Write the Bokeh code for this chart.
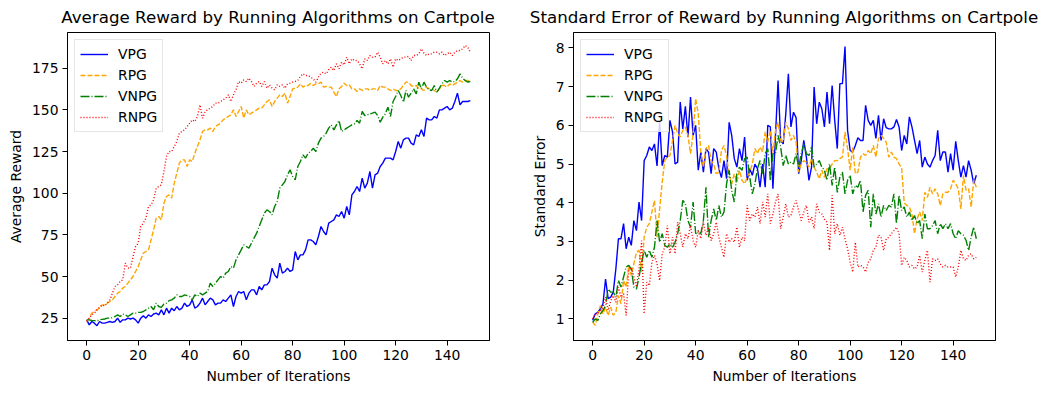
from bokeh.plotting import figure
from bokeh.layouts import row, column
from bokeh.models import Range1d, FixedTicker, Legend, LegendItem, Div
from bokeh.embed import file_html
from bokeh.resources import INLINE

iterations = list(range(150))

avg_vpg = [24, 21, 23, 22, 20.5, 23, 22, 22, 22.5, 23,
           22.5, 23, 25, 22.5, 24, 24, 25, 24.5, 25, 24,
           22, 25, 26.5, 25, 27, 26, 27.5, 28, 27, 30,
           27, 31, 28, 31, 29.5, 32, 30, 31, 34, 32,
           33, 36, 31, 32, 34, 37, 33, 35, 37, 36,
           33, 34, 34, 36, 35, 37, 39, 32, 38, 41,
           40, 41, 36, 40, 42, 42, 39, 44, 42, 45,
           45, 47, 55, 51, 49, 58, 52, 53, 55, 53,
           54, 65, 60, 63, 63, 66, 72, 72, 71, 69,
           74, 80, 77, 75, 82, 83, 84, 87, 86, 89,
           85, 92, 87, 99, 101, 104, 101, 109, 103, 106,
           113, 103, 111, 112, 116, 118, 121, 121, 121, 120,
           125, 131, 127, 132, 133, 133, 130, 129, 135, 134,
           138, 134, 145, 144, 144, 146, 145, 150, 150, 151,
           152, 150, 151, 155, 160, 153, 155, 155, 155, 155.5]

avg_rpg = [23, 25, 28, 29, 30, 31, 33, 33, 34, 35,
           36, 38, 40, 41, 43, 44, 46, 48, 50, 53,
           56, 60, 64, 65, 66, 72, 78, 85, 86, 84,
           94, 98, 99, 97, 106, 112, 118, 120, 120, 116,
           120, 119, 124, 128, 132, 137, 138, 138, 139, 137,
           140, 141, 142, 144, 145, 146, 147, 150, 146, 149,
           152, 145, 150, 147, 148, 149, 150, 151, 151, 153,
           155, 156, 152, 155, 157, 159, 158, 160, 154, 158,
           162.6, 163, 163.6, 165.6, 163.6, 164.6, 164.6, 166, 164.6, 165.6,
           165.6, 166.6, 163.6, 164, 163.6, 163.6, 160.6, 158, 162.6, 164,
           166, 164.6, 165, 162.6, 162.6, 161, 162.6, 161.6, 162.6, 162.6,
           161.6, 162.6, 162.6, 161.6, 164.6, 163.6, 163.6, 162.6, 161.6, 162.6,
           161.6, 161.6, 162.6, 164.6, 166.6, 166.6, 164.6, 164, 164.6, 162.6,
           162.6, 161.6, 163.6, 162.6, 162.6, 161.6, 160.6, 162.6, 164.6, 164.6,
           163.6, 165.6, 164.6, 165.6, 166.6, 167.6, 166.6, 167.6, 167.6, 167]

avg_vnpg = [24, 24, 23.6, 23.5, 23.4, 24, 24.3, 24.5, 25, 25,
            25.3, 26, 27, 26, 27.5, 27, 26, 27, 28, 28,
            28.5, 28.5, 29, 30, 31, 32, 30, 34, 32, 31.5,
            33.5, 34, 35.5, 36, 37, 39, 38, 38, 39, 38.5,
            38, 36, 39, 38, 40, 39, 40, 41, 46, 44,
            46, 48, 50, 49, 52, 53, 56, 55, 60, 63,
            66, 69, 68, 67, 70, 73, 76, 80, 84, 88,
            90, 89, 87, 92, 95, 103, 105, 107, 111, 114,
            110, 108, 116, 119, 123, 121, 124, 125, 127, 125,
            130, 133, 134, 136, 139, 141, 138, 141, 143.6, 137,
            138, 139, 140, 141, 141.6, 143.6, 142, 149, 146.6, 147,
            147.6, 148, 148.6, 146.6, 142.6, 145.6, 147.6, 151.6, 146, 155,
            158, 161.6, 158.6, 154.6, 161.6, 157.6, 160, 162.6, 159.6, 166.6,
            162.6, 166.6, 163.6, 162, 161.6, 164.6, 160.6, 163, 165.6, 167.6,
            166.6, 167.6, 166.6, 167, 168.6, 171.6, 169, 167.6, 166.6, 167]

avg_rnpg = [23, 25, 27, 28, 30, 31.5, 33, 32.3, 34, 36,
            40, 44, 45, 47, 48, 58, 55, 55, 62, 68,
            70, 80, 82, 85, 92, 93, 96, 103, 104, 105,
            113, 122, 125, 125, 128, 131, 136, 137, 138, 140,
            142, 144, 143, 146, 153, 145, 149, 150, 151, 152,
            154, 154, 155, 156, 157, 159, 155, 159, 162, 167,
            166, 168, 167, 169, 167, 164, 166, 167, 164, 167,
            163, 165, 163, 162, 165, 164, 165, 163, 165.6, 166,
            166.6, 167, 167.6, 170, 171.6, 170.6, 170.6, 169.5, 168.6, 166.6,
            169.6, 172, 172.6, 171.6, 174, 175.6, 173.6, 177.6, 174.6, 178.6,
            177, 181.6, 177.6, 180.6, 179.6, 179.6, 177.6, 174.6, 180.6, 179.6,
            182.6, 181.6, 181.6, 184.6, 181.6, 177.6, 179.6, 177.6, 180.6, 175.6,
            180.6, 179.6, 180.6, 181.6, 181.6, 182, 179.6, 182.6, 182.6, 183.6,
            186.6, 184, 182.6, 183.6, 183.6, 184.6, 184.6, 183.6, 184.6, 182.6,
            183.6, 184.6, 182.6, 184.6, 185.6, 185.6, 186.6, 188.6, 187.6, 184.6]

se_vpg = [0.96, 1.13, 1.17, 1.26, 1.39, 2.03, 1.52, 1.56, 1.69, 2.29,
          3.07, 3.07, 3.46, 2.81, 3.11, 2.9, 3.54, 3.28, 4.02, 3.54,
          5.09, 5.22, 5.44, 5.35, 5.52, 4.95, 6.08, 4.96, 5.22, 5.18,
          6.13, 5.83, 5.0, 5.05, 6.6, 5.91, 6.49, 5.7, 6.73, 5.74,
          6.0, 4.84, 5.31, 4.79, 5.4, 5.31, 4.75, 5.4, 5.31, 4.88,
          4.65, 5.09, 4.62, 6.08, 5.74, 5.14, 4.92, 5.4, 5.09, 5.7,
          4.58, 4.88, 4.71, 5.0, 4.88, 4.4, 5.0, 4.4, 6.0, 5.96,
          4.36, 5.74, 7.16, 5.61, 5.52, 6.3, 7.33, 5.96, 6.34, 6.2,
          4.75, 5.09, 5.61, 5.18, 4.58, 4.92, 6.99, 6.04, 6.6, 6.43,
          5.96, 6.86, 6.04, 7.03, 6.13, 5.4, 7.08, 7.08, 8.04, 5.87,
          5.35, 5.31, 5.48, 5.68, 5.61, 5.61, 6.52, 6.13, 6.0, 6.13,
          5.66, 6.26, 5.61, 6.17, 5.94, 5.91, 5.91, 5.96, 6.15, 5.96,
          5.35, 5.74, 5.52, 6.22, 5.96, 5.61, 5.27, 5.61, 4.92, 5.18,
          5.0, 4.92, 5.09, 5.22, 5.87, 5.09, 5.31, 5.31, 4.79, 5.27,
          4.84, 5.59, 5.09, 4.66, 4.96, 4.66, 5.09, 4.84, 4.49, 4.71]

se_rpg = [0.91, 0.83, 1.13, 1.34, 1.13, 1.3, 1.09, 1.3, 1.09, 1.17,
          1.6, 1.39, 1.99, 1.82, 2.38, 2.12, 2.42, 2.72, 2.77, 2.21,
          3.11, 3.37, 3.46, 3.76, 4.06, 3.11, 3.84, 4.53, 5.09, 5.18,
          5.22, 5.61, 6.0, 5.78, 5.7, 5.87, 5.96, 5.74, 5.27, 5.78,
          6.69, 6.3, 5.31, 4.92, 5.4, 5.48, 5.09, 5.0, 4.75, 4.79,
          5.35, 5.48, 5.22, 4.71, 4.49, 4.75, 4.53, 4.84, 4.58, 4.49,
          4.66, 4.79, 5.0, 5.4, 5.27, 5.44, 5.31, 5.83, 5.57, 5.87,
          5.27, 5.87, 6.08, 5.61, 5.57, 6.08, 5.91, 5.61, 5.74, 5.57,
          4.79, 5.0, 5.09, 5.05, 4.92, 5.14, 4.92, 4.79, 4.62, 4.84,
          4.66, 4.88, 4.88, 5.0, 5.09, 5.09, 5.14, 5.18, 5.83, 5.4,
          4.84, 5.44, 4.75, 4.79, 5.18, 5.27, 5.22, 5.35, 5.27, 5.48,
          5.18, 5.66, 5.74, 5.66, 5.57, 5.18, 5.31, 5.18, 5.14, 5.0,
          4.9, 4.0, 3.93, 3.89, 3.71, 3.2, 3.58, 3.76, 3.54, 4.27,
          4.14, 4.4, 4.23, 4.36, 4.23, 3.93, 4.23, 4.27, 4.27, 4.36,
          4.58, 4.49, 4.36, 3.84, 4.71, 4.32, 4.36, 3.89, 4.58, 4.4]

se_vnpg = [0.91, 1.0, 0.96, 1.13, 1.22, 1.34, 1.77, 1.69, 1.69, 1.56,
           1.99, 1.82, 2.08, 2.34, 2.38, 2.29, 1.82, 1.77, 2.08, 2.46,
           2.77, 2.59, 2.77, 2.59, 2.85, 3.54, 2.98, 3.2, 2.9, 2.85,
           2.94, 2.85, 2.98, 3.2, 3.54, 4.06, 3.97, 3.54, 3.37, 4.02,
           3.2, 3.28, 3.2, 3.54, 4.4, 3.11, 3.54, 3.84, 3.54, 3.93,
           3.63, 3.76, 4.49, 4.84, 4.32, 4.02, 4.75, 4.92, 4.84, 5.14,
           5.18, 4.66, 4.23, 4.49, 4.88, 5.09, 4.75, 5.27, 5.4, 4.58,
           5.27, 5.27, 5.74, 5.44, 4.96, 5.22, 5.0, 5.05, 5.0, 5.27,
           4.92, 5.27, 5.52, 5.27, 5.22, 5.44, 4.92, 5.0, 5.09, 4.92,
           4.84, 4.58, 5.0, 4.45, 4.92, 4.27, 4.66, 4.79, 4.23, 4.58,
           4.71, 4.23, 4.45, 4.4, 4.58, 3.76, 4.19, 4.32, 3.37, 4.23,
           3.71, 3.97, 3.63, 3.93, 3.8, 3.93, 3.89, 4.23, 3.46, 4.19,
           3.8, 3.89, 3.63, 3.76, 3.54, 3.67, 3.46, 3.54, 3.07, 3.71,
           3.33, 3.33, 3.41, 3.54, 3.2, 3.46, 3.33, 3.46, 3.33, 3.46,
           3.2, 3.07, 3.28, 3.2, 3.16, 3.03, 2.77, 3.11, 3.37, 3.07]

se_rnpg = [1.0, 1.13, 1.13, 1.22, 1.3, 1.56, 1.22, 1.47, 1.6, 1.43,
           1.82, 1.56, 1.65, 1.09, 2.25, 2.34, 2.08, 1.82, 2.29, 3.02,
           1.13, 1.95, 1.86, 2.46, 2.64, 2.42, 1.99, 2.68, 2.85, 3.41,
           2.68, 3.11, 2.68, 3.5, 3.2, 2.85, 3.2, 3.07, 3.41, 3.02,
           2.85, 3.28, 3.07, 3.5, 3.16, 3.37, 3.02, 3.2, 3.5, 3.11,
           2.85, 2.59, 3.2, 2.98, 3.07, 2.98, 3.37, 2.85, 3.11, 3.02,
           3.93, 3.54, 3.71, 3.63, 3.89, 3.46, 4.02, 3.63, 4.23, 3.46,
           3.71, 4.02, 4.23, 3.33, 3.63, 3.97, 3.63, 3.67, 3.89, 4.06,
           3.8, 3.54, 3.76, 3.93, 3.5, 3.63, 3.33, 3.97, 3.76, 3.71,
           3.58, 3.5, 2.77, 4.19, 3.2, 3.46, 3.16, 3.37, 3.07, 2.81,
           2.46, 2.21, 2.98, 2.34, 2.38, 2.34, 2.21, 2.46, 2.55, 2.77,
           2.85, 3.16, 3.11, 2.77, 3.07, 3.11, 3.2, 3.28, 3.37, 3.2,
           2.38, 2.59, 2.51, 2.34, 2.38, 2.29, 2.34, 2.64, 2.21, 2.51,
           2.77, 1.95, 2.55, 2.51, 2.55, 2.42, 2.34, 2.38, 2.34, 2.34,
           2.34, 2.08, 2.34, 2.77, 2.55, 2.51, 2.64, 2.68, 2.55, 2.59]

names = ["VPG", "RPG", "VNPG", "RNPG"]
colors = ["#0000ff", "#ffa500", "#008000", "#ff0000"]
dashes = ["solid", "5 2", "9 2 1 2", "1 2"]
x_ticks = [0, 20, 40, 60, 80, 100, 120, 140]
avg_ticks = [25, 50, 75, 100, 125, 150, 175]
se_ticks = [1, 2, 3, 4, 5, 6, 7, 8]
titles = ["Average Reward by Running Algorithms on Cartpole",
          "Standard Error of Reward by Running Algorithms on Cartpole"]

FONT = "DejaVu Sans"
FRAME_W = 422
FRAME_H = 308
X_LO, X_HI = -7.45, 156.45
TITLE_H = 28
TITLE_TOP = 8


def make_fig(ylabel, series, y_lo, y_hi, yticks, border_left, border_right):
    p = figure(width=border_left + FRAME_W + border_right, height=4 + FRAME_H + 48,
               frame_width=FRAME_W, frame_height=FRAME_H,
               min_border_left=border_left, min_border_right=border_right,
               min_border_top=4, min_border_bottom=48,
               x_range=Range1d(X_LO, X_HI), y_range=Range1d(y_lo, y_hi),
               output_backend="svg", toolbar_location=None)
    p.grid.visible = False
    p.outline_line_color = "black"
    p.outline_line_width = 1
    p.outline_line_alpha = 1
    p.background_fill_color = "white"
    p.border_fill_color = "white"
    for ax in (p.xaxis[0], p.yaxis[0]):
        ax.axis_line_color = "black"
        ax.major_tick_line_color = "black"
        ax.major_tick_out = 5
        ax.major_tick_in = 0
        ax.minor_tick_line_color = None
        ax.major_label_text_font = FONT
        ax.major_label_text_font_size = "13.9px"
        ax.major_label_text_color = "black"
        ax.axis_label_text_font = FONT
        ax.axis_label_text_font_size = "13.9px"
        ax.axis_label_text_font_style = "normal"
        ax.axis_label_text_color = "black"
        ax.major_label_standoff = 4
        ax.axis_label_standoff = 5
    p.xaxis.ticker = FixedTicker(ticks=x_ticks)
    p.yaxis.ticker = FixedTicker(ticks=yticks)
    p.xaxis.axis_label = "Number of Iterations"
    p.yaxis.axis_label = ylabel

    items = []
    for name, ys, c, d in zip(names, series, colors, dashes):
        r = p.line(iterations, ys, line_color=c, line_width=1.4, line_dash=d)
        items.append(LegendItem(label=name, renderers=[r]))
    leg = Legend(items=items, location="top_left")
    leg.margin = 7
    leg.padding = 5
    leg.spacing = 3
    leg.label_height = 18
    leg.glyph_height = 18
    leg.glyph_width = 28
    leg.label_standoff = 10
    leg.label_text_font = FONT
    leg.label_text_font_size = "13.9px"
    leg.label_text_color = "black"
    leg.border_line_color = "#cccccc"
    leg.border_line_width = 1
    leg.background_fill_color = "white"
    leg.background_fill_alpha = 0.8
    p.add_layout(leg)
    return p


def make_title(text, width, frame_center):
    # centred on the frame centre; the text may be wider than the frame
    box = 600
    html = ('<div style="position:relative;width:%dpx;height:%dpx;overflow:visible;">'
            '<div style="position:absolute;left:%dpx;top:%dpx;width:%dpx;text-align:center;'
            'font-family:\'DejaVu Sans\';font-size:16.7px;line-height:19px;color:black;'
            'white-space:nowrap;">%s</div></div>') % (width, TITLE_H, frame_center - box // 2,
                                                      TITLE_TOP, box, text)
    return Div(text=html, width=width, height=TITLE_H, margin=(0, 0, 0, 0),
               styles={"overflow": "visible"})


LEFT1 = 67
LEFT2 = 65
p1 = make_fig("Average Reward", [avg_vpg, avg_rpg, avg_vnpg, avg_rnpg],
              11.6, 196.4, avg_ticks, LEFT1, 19)
p2 = make_fig("Standard Error", [se_vpg, se_rpg, se_vnpg, se_rnpg],
              0.44, 8.40, se_ticks, LEFT2, 42)

t1 = make_title(titles[0], LEFT1 + FRAME_W + 19, LEFT1 + FRAME_W // 2)
t2 = make_title(titles[1], LEFT2 + FRAME_W + 42, LEFT2 + FRAME_W // 2)

layout = column(row(t1, t2, spacing=0), row(p1, p2, spacing=0), spacing=0)
open("out.html", "w").write(file_html(layout, INLINE))
